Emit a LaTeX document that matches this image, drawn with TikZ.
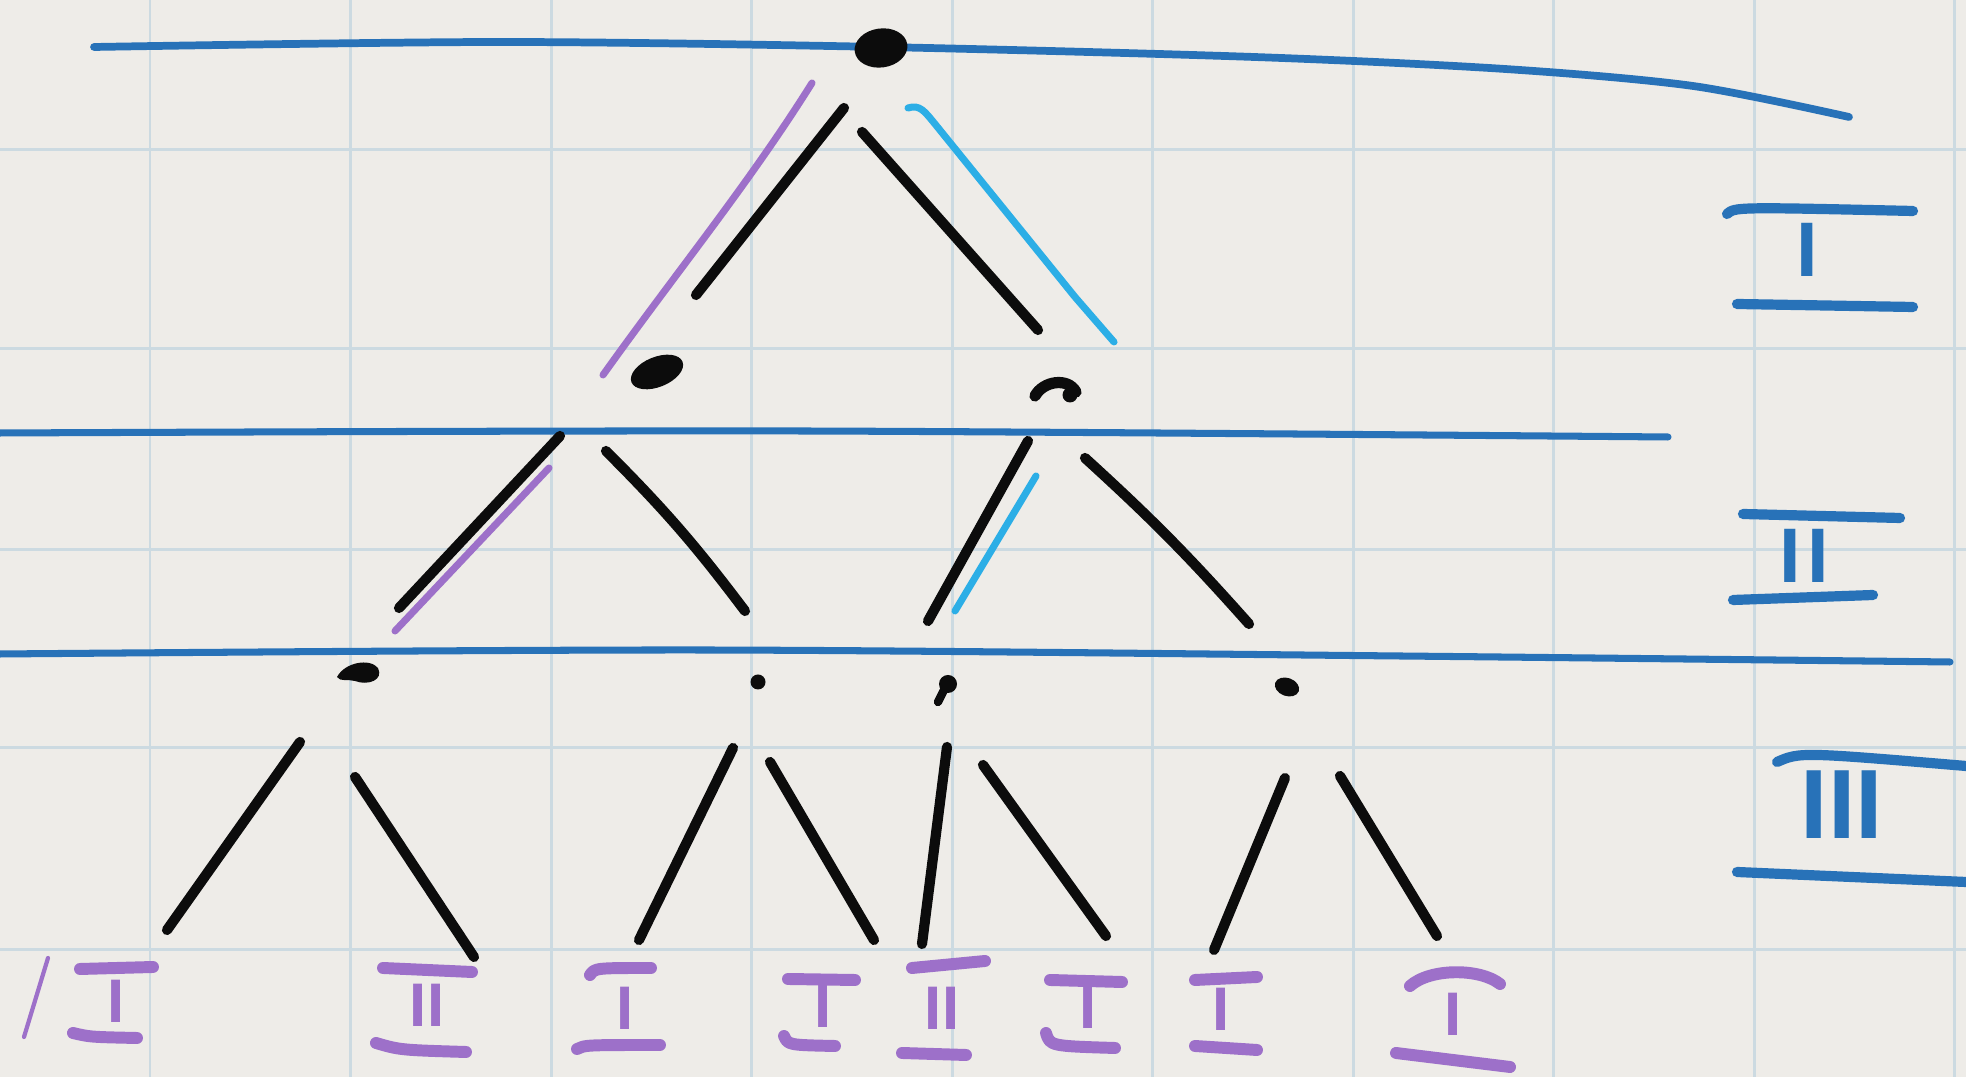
\documentclass[tikz,border=0pt]{standalone}
\usepackage{fontspec}
\setmainfont{Liberation Sans}
\usetikzlibrary{shapes.geometric}
\definecolor{paper}{RGB}{238,236,232}
\definecolor{gridc}{RGB}{204,218,225}
\definecolor{pen}{RGB}{40,114,184}
\definecolor{ink}{RGB}{12,12,12}
\definecolor{lilac}{RGB}{157,112,201}
\definecolor{sky}{RGB}{44,174,230}
\begin{document}
\begin{tikzpicture}[x=0.01cm,y=-0.01cm, line cap=round, line join=round,
 gridline/.style={gridc, line width=0.85pt},
 rule/.style={pen, line width=2pt},
 edge/.style={ink, line width=2.9pt},
 hilite/.style={line width=2pt},
 pbar/.style={lilac, line width=3.4pt},
 bbar/.style={pen, line width=2.9pt},
 leaf/.style={lilac, inner sep=0pt, font=\bfseries\fontsize{17.5}{17.5}\selectfont},
 tag/.style={pen, inner sep=0pt, font=\bfseries\fontsize{22}{22}\selectfont},
 dot/.style={fill=ink, draw=none, ellipse, inner sep=0pt}
]
% paper
\fill[paper] (0,0) rectangle (1966,1077);
\useasboundingbox (0,0) rectangle (1966,1077);
\foreach \k in {0,...,9} \draw[gridline] ({150+200.5*\k},0) -- ({150+200.5*\k},1077);
\foreach \yy in {150,349,550,748,950} \draw[gridline] (0,\yy) -- (1966,\yy);

% blue level rules
\draw[rule, line width=2.2pt] plot[smooth] coordinates {(94,47) (500,42) (881,47) (1254,57) (1505,69) (1693,86) (1849,117)};
\draw[rule] plot[smooth] coordinates {(0,433) (800,431) (1668,437)};
\draw[rule] plot[smooth] coordinates {(0,654) (700,650) (1400,656) (1950,662)};

% nodes
\node[dot, minimum width=0.53cm, minimum height=0.39cm, rotate=8] (root) at (881,48) {};
\node[dot, minimum width=0.55cm, minimum height=0.30cm, rotate=22] (n1) at (657,372) {};
\coordinate (n2) at (1057,390);
\draw[ink, line width=3.2pt] (1035,396) .. controls (1043,381) and (1068,377) .. (1076,392);
\fill[ink] (1070,395) circle (0.075cm);
\coordinate (mA) at (360,673);
\fill[ink] (337,677) .. controls (345,662) and (370,658) .. (378,668) .. controls (384,680) and (368,686) .. (355,681) .. controls (348,679) and (340,682) .. cycle;
\node[dot, minimum width=0.15cm, minimum height=0.15cm] (mB) at (758,682) {};
\coordinate (mC) at (947,687);
\fill[ink] (948,684) circle (0.09cm);
\draw[ink, line width=2.4pt] (945,688) -- (938,702);
\node[dot, minimum width=0.25cm, minimum height=0.18cm, rotate=-20] (mD) at (1287,687) {};

% edge end points
\coordinate (a1) at (844,108); \coordinate (a2) at (696,295);
\coordinate (b1) at (862,132); \coordinate (b2) at (1038,330);
\coordinate (c1) at (560,436); \coordinate (c2) at (399,608);
\coordinate (d1) at (606,451); \coordinate (d2) at (745,611);
\coordinate (e1) at (1028,441); \coordinate (e2) at (928,621);
\coordinate (f1) at (1085,458); \coordinate (f2) at (1249,624);
\coordinate (g1) at (300,742); \coordinate (g2) at (167,930);
\coordinate (h1) at (355,777); \coordinate (h2) at (474,957);
\coordinate (i1) at (733,748); \coordinate (i2) at (639,940);
\coordinate (j1) at (770,762); \coordinate (j2) at (874,940);
\coordinate (k1) at (947,747); \coordinate (k2) at (922,944);
\coordinate (l1) at (983,765); \coordinate (l2) at (1106,936);
\coordinate (m1) at (1285,778); \coordinate (m2) at (1214,950);
\coordinate (o1) at (1340,776); \coordinate (o2) at (1437,936);

% black edges
\draw[edge] (a1) -- (a2);
\draw[edge] (b1) -- (b2);
\draw[edge] (c1) -- (c2);
\draw[edge] (d1) to[bend left=4] (d2);
\draw[edge] (e1) -- (e2);
\draw[edge] (f1) to[bend left=3] (f2);
\draw[edge] (g1) -- (g2);
\draw[edge] (h1) -- (h2);
\draw[edge] (i1) -- (i2);
\draw[edge] (j1) -- (j2);
\draw[edge] (k1) -- (k2);
\draw[edge] (l1) -- (l2);
\draw[edge] (m1) -- (m2);
\draw[edge] (o1) -- (o2);

% highlighted paths
\coordinate (u1) at (812,83); \coordinate (u2) at (603,375);
\draw[hilite, lilac] (u1) .. controls (748,185) and (678,270) .. (u2);
\coordinate (v1) at (908,108); \coordinate (v2) at (1114,342);
\draw[hilite, sky] (v1) .. controls (920,104) and (925,112) .. (935,124) -- (1075,297) .. controls (1095,320) .. (v2);
\coordinate (p1) at (549,468); \coordinate (p2) at (395,631);
\draw[hilite, lilac] (p1) -- (p2);
\coordinate (q1) at (1036,476); \coordinate (q2) at (955,611);
\draw[hilite, sky] (q1) -- (q2);

% leaf labels
\draw[lilac, line width=1.2pt] (48,958) -- (24,1037);
\node[leaf] (t1) at (116,1001) {I};
\draw[pbar] (80,969) -- (153,967);
\draw[pbar] (73,1033) .. controls (90,1037) .. (137,1038);

\node[leaf] (t2) at (427,1005) {II};
\draw[pbar] (383,968) -- (472,972);
\draw[pbar] (376,1043) .. controls (400,1050) .. (466,1052);

\node[leaf] (t3) at (625,1008) {I};
\draw[pbar] (590,975) .. controls (595,968) .. (651,968);
\draw[pbar] (577,1049) .. controls (585,1045) .. (660,1045);

\node[leaf] (t4) at (823,1006) {I};
\draw[pbar] (788,979) -- (855,980);
\draw[pbar] (784,1036) .. controls (788,1045) .. (835,1046);

\node[leaf] (t5) at (942,1008) {II};
\draw[pbar] (912,968) -- (985,961);
\draw[pbar] (902,1053) -- (966,1055);

\node[leaf] (t6) at (1088,1007) {I};
\draw[pbar] (1050,980) -- (1122,982);
\draw[pbar] (1046,1033) .. controls (1050,1046) .. (1115,1048);

\node[leaf] (t7) at (1221,1009) {I};
\draw[pbar] (1195,980) -- (1257,977);
\draw[pbar] (1195,1046) -- (1257,1050);

\node[leaf] (t8) at (1453,1014) {I};
\draw[pbar] (1410,986) .. controls (1430,968) and (1480,968) .. (1500,984);
\draw[pbar] (1396,1053) -- (1510,1067);

% level tags
\node[tag] (T1) at (1807,250) {I};
\draw[bbar] (1727,214) .. controls (1735,207) .. (1913,211);
\draw[bbar] (1737,304) -- (1913,307);

\node[tag] (T2) at (1804,556) {I\kern2pt I};
\draw[bbar] (1743,514) -- (1900,518);
\draw[bbar] (1733,600) -- (1873,595);

\node[tag, font=\bfseries\fontsize{28}{28}\selectfont] (T3) at (1842,805) {III};
\draw[bbar] (1777,762) .. controls (1800,752) .. (1966,766);
\draw[bbar] (1737,872) -- (1966,882);
\end{tikzpicture}
\end{document}
